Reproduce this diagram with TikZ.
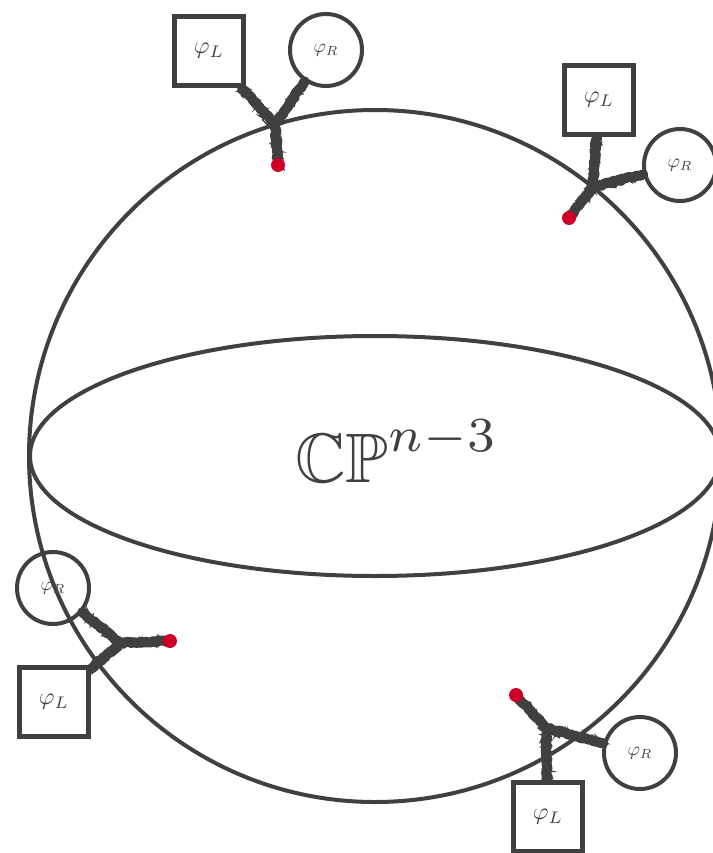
\documentclass[tikz,border=0pt]{standalone}
\usepackage{amsmath,amssymb}
\usepackage{tikz}
\usetikzlibrary{decorations.pathmorphing}
\definecolor{ink}{RGB}{64,64,64}
\definecolor{dotred}{RGB}{206,0,42}

\begin{document}
\begin{tikzpicture}[x=1pt,y=-1pt,
 fieldL/.style={draw=ink,line width=5pt,minimum size=69pt,inner sep=0pt,rectangle,text=ink},
 fieldR/.style={draw=ink,line width=4pt,minimum size=72pt,inner sep=0pt,circle,text=ink},
 pencil/.style={draw=ink,line width=10pt,line cap=round,line join=round,decorate,decoration={random steps,segment length=2pt,amplitude=1pt}},
 fuzz/.style={draw=ink,line width=1.4pt,decorate,decoration={random steps,segment length=1.5pt,amplitude=6pt}},
 puncture/.style={circle,fill=dotred,minimum size=14pt,inner sep=0pt}]
\useasboundingbox (0,0) rectangle (712,853);
\draw[ink,line width=4pt] (375,456) circle[radius=346];
\draw[ink,line width=4pt] (375,456) ellipse[x radius=345,y radius=120];
\node[text=ink] (cp) at (397,451) {\scalebox{7}{$\mathbb{CP}^{n-3}$}};
\foreach \n/\jx/\jy/\dx/\dy/\sx/\sy/\cx/\cy in %
{a/275/125/278/165/209/51/326/50,%
 b/593/187/569/218/599/100/680/165,%
 c/120/643/170/641/54/702/53/588,%
 d/546/728/516/695/548/817/640/753} {
   \coordinate (j\n) at (\jx,\jy);
   \coordinate (d\n) at (\dx,\dy);
   \node[fieldL] (L\n) at (\sx,\sy) {\scalebox{2.4}{$\varphi_L$}};
   \node[fieldR] (R\n) at (\cx,\cy) {\scalebox{1.9}{$\varphi_R$}};
   \draw[pencil] (L\n) -- (j\n) -- (d\n);
   \draw[pencil] (R\n) -- (j\n);
   \draw[fuzz] (L\n) -- (j\n) -- (d\n);
   \draw[fuzz] (R\n) -- (j\n);
   \node[puncture] (p\n) at (d\n) {};
}
\end{tikzpicture}
\end{document}
